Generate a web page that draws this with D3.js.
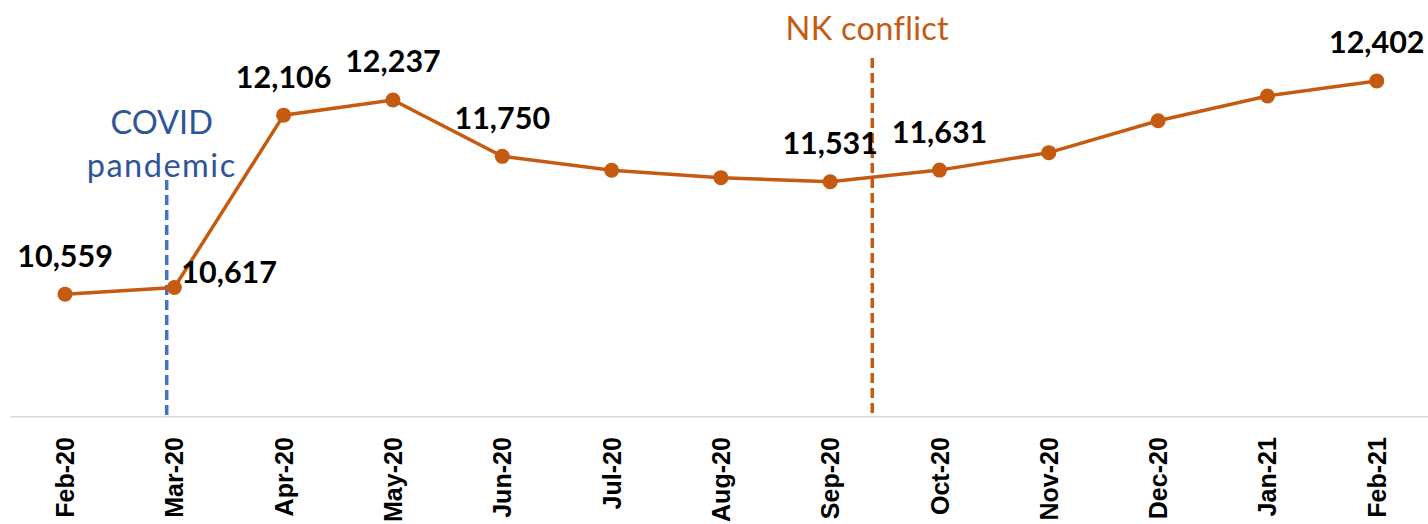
<!DOCTYPE html>
<meta charset="utf-8">
<style>
body { margin: 0; background: #fff; }
.point-label { font-family: Lato, sans-serif; font-weight: bold; font-size: 30.5px; fill: #000; }
.x-label { font-family: "Liberation Sans", Arial, sans-serif; font-weight: bold; font-size: 25px; fill: #000; }
.note { font-family: Lato, sans-serif; font-size: 32.5px; }
</style>
<svg width="1428" height="524"></svg>
<script src="https://d3js.org/d3.v7.min.js"></script>
<script>

var months = ["Feb-20", "Mar-20", "Apr-20", "May-20", "Jun-20", "Jul-20", "Aug-20",
              "Sep-20", "Oct-20", "Nov-20", "Dec-20", "Jan-21", "Feb-21"];
var values = [10559, 10617, 12106, 12237, 11750, 11630, 11566,
              11531, 11631, 11782, 12058, 12272, 12402];
var labelled = ["Feb-20", "Mar-20", "Apr-20", "May-20", "Jun-20", "Sep-20", "Oct-20", "Feb-21"];

// events, placed as a fractional position along the month axis
var events = [
  { lines: ["COVID", "pandemic"], at: 0.93, color: "#4472C4", textColor: "#2F5597", top: 180, textY: 177, spacing: [0, 1.5] },
  { lines: ["NK conflict"], at: 7.385, color: "#C55A11", textColor: "#C55A11", top: 58, textY: 40, spacing: [0.3] }
];

var svg = d3.select("svg"),
    width = +svg.attr("width"),
    height = +svg.attr("height");

var x = d3.scalePoint()
    .domain(months)
    .range([10.4, 1431.4])
    .padding(0.5);

var y = d3.scaleLinear()
    .domain([9500, 13000])
    .range([416.7, 11.7]);

var step = x.step();
function eventX(e) { return x(months[0]) + e.at * step; }

// axis line
svg.append("line")
    .attr("x1", x.range()[0])
    .attr("x2", width)
    .attr("y1", y(9500))
    .attr("y2", y(9500))
    .attr("stroke", "#d9d9d9")
    .attr("stroke-width", 1.5);

// x labels
svg.append("g").selectAll("text")
    .data(months)
    .enter().append("text")
      .attr("class", "x-label")
      .attr("text-anchor", "end")
      .attr("transform", function(d) { return "translate(" + (x(d) + 9) + "," + (y(9500) + 20.5) + ") rotate(-90)"; })
      .text(function(d) { return d; });

// event lines
var ev = svg.append("g").selectAll("g")
    .data(events)
    .enter().append("g");

ev.append("line")
    .attr("x1", eventX).attr("x2", eventX)
    .attr("y1", function(d) { return d.top; })
    .attr("y2", y(9500))
    .attr("stroke", function(d) { return d.color; })
    .attr("stroke-width", 3.5)
    .attr("stroke-dasharray", "10,5");

ev.each(function(d) {
  var g = d3.select(this);
  var n = d.lines.length;
  d.lines.forEach(function(t, i) {
    g.append("text")
      .attr("class", "note")
      .attr("x", eventX(d) - 5)
      .attr("y", d.textY - (n - 1 - i) * 43)
      .attr("text-anchor", "middle")
      .attr("letter-spacing", d.spacing[i])
      .attr("fill", d.textColor)
      .text(t);
  });
});

// line
var line = d3.line()
    .x(function(d, i) { return x(months[i]); })
    .y(function(d) { return y(d); });

svg.append("path")
    .datum(values)
    .attr("fill", "none")
    .attr("stroke", "#C55A11")
    .attr("stroke-width", 3.5)
    .attr("d", line);

svg.append("g").selectAll("circle")
    .data(values)
    .enter().append("circle")
      .attr("cx", function(d, i) { return x(months[i]); })
      .attr("cy", function(d) { return y(d); })
      .attr("r", 7.5)
      .attr("fill", "#C55A11");

// data labels
var fmt = d3.format(",");
svg.append("g").selectAll("text")
    .data(values.map(function(v, i) { return { m: months[i], v: v }; })
      .filter(function(d) { return labelled.indexOf(d.m) >= 0; }))
    .enter().append("text")
      .attr("class", "point-label")
      .attr("text-anchor", function(d) { return d.m === "Mar-20" ? "start" : "middle"; })
      .attr("x", function(d) { return d.m === "Mar-20" ? x(d.m) + 7 : x(d.m); })
      .attr("y", function(d) { return d.m === "Mar-20" ? y(d.v) - 4 : y(d.v) - 27.5; })
      .text(function(d) { return fmt(d.v); });

</script>
